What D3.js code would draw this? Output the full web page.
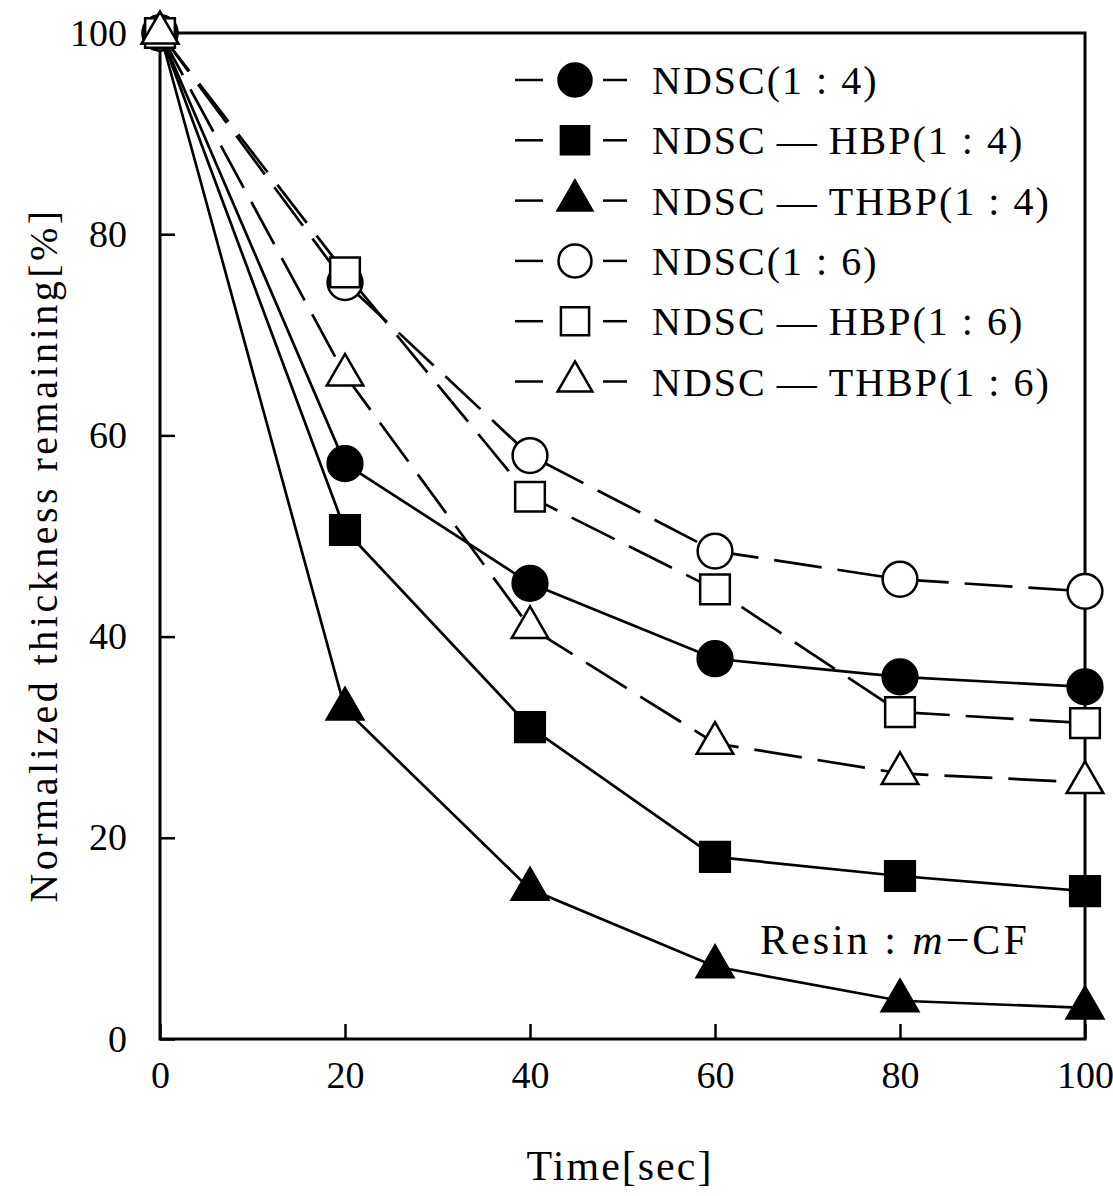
<!DOCTYPE html>
<html>
<head>
<meta charset="utf-8">
<script src="https://cdn.jsdelivr.net/npm/d3@7"></script>
<style>
  body { margin: 0; background: #fff; }
  text { font-family: "Liberation Serif", "Times New Roman", serif; fill: #000; }
</style>
</head>
<body>
<svg id="chart"></svg>
<script>
const times = [0, 20, 40, 60, 80, 100];
const seriesNames = ["NDSC(1 : 4)", "NDSC\u2009—\u2009HBP(1 : 4)", "NDSC\u2009—\u2009THBP(1 : 4)",
                     "NDSC(1 : 6)", "NDSC\u2009—\u2009HBP(1 : 6)", "NDSC\u2009—\u2009THBP(1 : 6)"];
const ndsc14     = [100, 57.2, 45.3, 37.8, 36.0, 35.0];
const ndscHbp14  = [100, 50.6, 31.0, 18.1, 16.2, 14.7];
const ndscThbp14 = [100, 32.8, 14.9, 7.2, 3.8, 3.1];
const ndsc16     = [100, 75.2, 58.0, 48.5, 45.7, 44.5];
const ndscHbp16  = [100, 76.2, 53.9, 44.7, 32.5, 31.4];
const ndscThbp16 = [100, 66.0, 40.9, 29.4, 26.4, 25.5];
const xTicks = [0, 20, 40, 60, 80, 100];
const yTicks = [0, 20, 40, 60, 80, 100];

const allValues = [ndsc14, ndscHbp14, ndscThbp14, ndsc16, ndscHbp16, ndscThbp16];
const shapes = [d3.symbolCircle, d3.symbolSquare, d3.symbolTriangle,
                d3.symbolCircle, d3.symbolSquare, d3.symbolTriangle];
const symSize = [950, 880, 580, 950, 880, 580];
const filled = [true, true, true, false, false, false];

const width = 1113, height = 1196;
const svg = d3.select("#chart").attr("width", width).attr("height", height);

const x = d3.scaleLinear().domain([0, 100]).range([160, 1085]);
const y = d3.scaleLinear().domain([0, 100]).range([1039, 33]);

// axes with inward ticks
const xAxis = svg.append("g")
  .attr("transform", `translate(0, ${y(0)})`)
  .call(d3.axisBottom(x).tickValues(xTicks).tickSize(-15).tickPadding(22));
const yAxis = svg.append("g")
  .attr("transform", `translate(${x(0)}, 0)`)
  .call(d3.axisLeft(y).tickValues(yTicks).tickSize(-15).tickPadding(33));

[xAxis, yAxis].forEach(a => {
  a.select(".domain").remove();
  a.selectAll(".tick line").attr("stroke", "#000").attr("stroke-width", 2.5);
  a.selectAll("text").style("font-size", "38px").attr("fill", "#000");
});

// frame
svg.append("rect")
  .attr("x", x(0)).attr("y", y(100))
  .attr("width", x(100) - x(0)).attr("height", y(0) - y(100))
  .attr("fill", "none").attr("stroke", "#000").attr("stroke-width", 3);

// lines
const line = d3.line().x((d, i) => x(times[i])).y(d => y(d));
allValues.forEach((vals, s) => {
  svg.append("path")
    .datum(vals)
    .attr("d", line)
    .attr("fill", "none")
    .attr("stroke", "#000")
    .attr("stroke-width", 2.7)
    .attr("stroke-dasharray", filled[s] ? null : "48,16");
});

// markers
allValues.forEach((vals, s) => {
  svg.append("g").selectAll("path")
    .data(vals)
    .enter()
    .append("path")
    .attr("transform", (d, i) => `translate(${x(times[i])}, ${y(d)})`)
    .attr("d", d3.symbol().type(shapes[s]).size(symSize[s]))
    .attr("fill", filled[s] ? "#000" : "#fff")
    .attr("stroke", "#000")
    .attr("stroke-width", 2.5);
});

// legend
const legend = svg.append("g").attr("transform", "translate(515, 80)");
seriesNames.forEach((name, i) => {
  const row = legend.append("g").attr("transform", `translate(0, ${i * 60.3})`);
  row.append("line").attr("x1", 0).attr("x2", 28).attr("stroke", "#000").attr("stroke-width", 2.5);
  row.append("line").attr("x1", 88).attr("x2", 112).attr("stroke", "#000").attr("stroke-width", 2.5);
  row.append("path")
    .attr("transform", "translate(60, 0)")
    .attr("d", d3.symbol().type(shapes[i]).size(symSize[i] * 0.9))
    .attr("fill", filled[i] ? "#000" : "#fff")
    .attr("stroke", "#000")
    .attr("stroke-width", 2.5);
  row.append("text")
    .attr("x", 137)
    .attr("y", 14)
    .style("font-size", "40px")
    .style("letter-spacing", "2px")
    .text(name);
});

// annotation
const note = svg.append("text")
  .attr("x", 760).attr("y", 954)
  .style("font-size", "42px")
  .style("letter-spacing", "3px");
note.append("tspan").text("Resin : ");
note.append("tspan").style("font-style", "italic").text("m");
note.append("tspan").text("−CF");

// axis titles
svg.append("text")
  .attr("x", 620).attr("y", 1180)
  .attr("text-anchor", "middle")
  .style("font-size", "42px")
  .style("letter-spacing", "2px")
  .text("Time[sec]");

svg.append("text")
  .attr("transform", "translate(57, 555) rotate(-90)")
  .attr("text-anchor", "middle")
  .style("font-size", "40px")
  .style("letter-spacing", "3.5px")
  .text("Normalized thickness remaining[%]");
</script>
</body>
</html>
